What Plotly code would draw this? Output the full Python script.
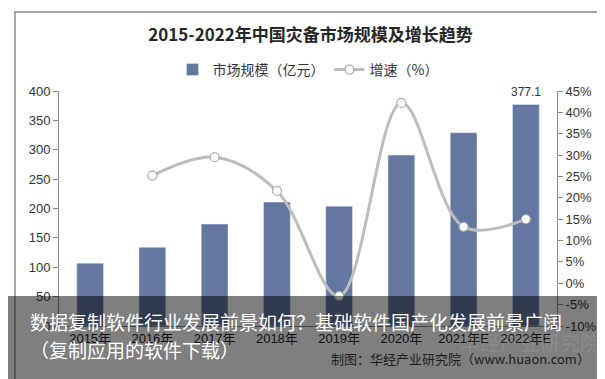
import plotly.graph_objects as go

categories = ["2015年", "2016年", "2017年", "2018年", "2019年", "2020年", "2021年E", "2022年E"]
market_size = [107, 134, 173.5, 211, 204, 291, 329, 377.1]
growth_cat = ["2016年", "2017年", "2018年", "2019年", "2020年", "2021年E", "2022年E"]
growth_rate = [25.2, 29.5, 21.6, -3.0, 42.2, 13.2, 15.0]
left_ticks = [0, 50, 100, 150, 200, 250, 300, 350, 400]
right_ticks = [-10, -5, 0, 5, 10, 15, 20, 25, 30, 35, 40, 45]
right_labels = [f"{v}%" for v in right_ticks]

W, H = 605, 379
L, R, T, B = 51, 549, 83, 318


def px(x):
    return (x - L) / (R - L)


def py(y):
    return (B - y) / (B - T)


font_main = "Liberation Sans, Arial, Noto Sans CJK SC, sans-serif"
font_cjk = "Noto Sans CJK SC, sans-serif"

fig = go.Figure()
fig.add_trace(go.Bar(
    x=categories, y=market_size, name="市场规模（亿元）",
    marker=dict(color="rgb(99,119,160)"), width=0.43, yaxis="y",
))
fig.add_trace(go.Scatter(
    x=growth_cat, y=growth_rate, name="增速（%）", yaxis="y2",
    mode="lines+markers",
    line=dict(color="#BDBDBD", width=3, shape="spline", smoothing=1.0),
    marker=dict(color="white", size=9, line=dict(color="#A6A6A6", width=1.2)),
))

fig.add_annotation(x=categories[-1], y=market_size[-1], yref="y", text=str(market_size[-1]),
                   showarrow=False, yshift=12, font=dict(family=font_main, size=12, color="#333"))

shapes = [
    dict(type="rect", xref="paper", yref="paper", x0=px(7), x1=px(597), y0=py(373), y1=py(4),
         line=dict(color="#8a8a8a", width=1.5), fillcolor="rgba(0,0,0,0)", layer="below"),
    dict(type="rect", xref="paper", yref="paper", x0=px(-2), x1=px(607), y0=py(381), y1=py(288),
         line=dict(width=0), fillcolor="rgba(0,0,0,0.5)", layer="above"),
]

annotations_extra = [
    dict(xref="paper", yref="paper", x=px(20), y=py(313), xanchor="left", yanchor="middle",
         text="数据复制软件行业发展前景如何？基础软件国产化发展前景广阔", showarrow=False,
         font=dict(family=font_cjk, size=19, color="white")),
    dict(xref="paper", yref="paper", x=px(20), y=py(341), xanchor="left", yanchor="middle",
         text="（复制应用的软件下载）", showarrow=False,
         font=dict(family=font_cjk, size=19, color="white")),
    dict(xref="paper", yref="paper", x=px(522), y=py(334), xanchor="center", yanchor="middle",
         text="华经产业研究院", showarrow=False,
         font=dict(family=font_cjk, size=20, color="rgba(255,255,255,0.10)")),
    dict(xref="paper", yref="paper", x=px(584), y=py(350), xanchor="right", yanchor="middle",
         text="制图：华经产业研究院（www.huaon.com）", showarrow=False,
         font=dict(family=font_cjk, size=13, color="#1e1e1e")),
]
for a in annotations_extra:
    fig.add_annotation(**a)

fig.update_layout(
    width=W, height=H,
    margin=dict(l=L, r=W - R, t=T, b=H - B, pad=0),
    paper_bgcolor="white", plot_bgcolor="white",
    title=dict(text="<b>2015-2022年中国灾备市场规模及增长趋势</b>", x=0.5, xanchor="center",
               y=1 - 27 / H, yanchor="middle",
               font=dict(family=font_cjk, size=17, color="#262626")),
    legend=dict(orientation="h", x=0.5, xanchor="center", y=py(62), yanchor="middle",
                font=dict(family=font_cjk, size=14, color="#333"), bgcolor="rgba(0,0,0,0)",
                itemwidth=30),
    showlegend=True,
    bargap=0.57,
    xaxis=dict(type="category", categoryorder="array", categoryarray=categories,
               showline=True, linecolor="#8a8a8a", linewidth=1, ticks="", showgrid=False,
               tickfont=dict(family=font_main, size=13, color="#222")),
    yaxis=dict(range=[0, 400], tickvals=left_ticks, showgrid=False, showline=True,
               linecolor="#8a8a8a", linewidth=1, ticks="outside", ticklen=5, tickcolor="#8a8a8a",
               tickfont=dict(family=font_main, size=13, color="#333"), zeroline=False),
    yaxis2=dict(range=[-10, 45], tickmode="array", tickvals=right_ticks, ticktext=right_labels,
                overlaying="y", side="right",
                showgrid=False, showline=True, linecolor="#8a8a8a", linewidth=1, ticks="outside",
                ticklen=5, tickcolor="#8a8a8a", zeroline=False,
                tickfont=dict(family=font_main, size=13, color="#333")),
    shapes=shapes,
)

fig.write_html("out.html")
